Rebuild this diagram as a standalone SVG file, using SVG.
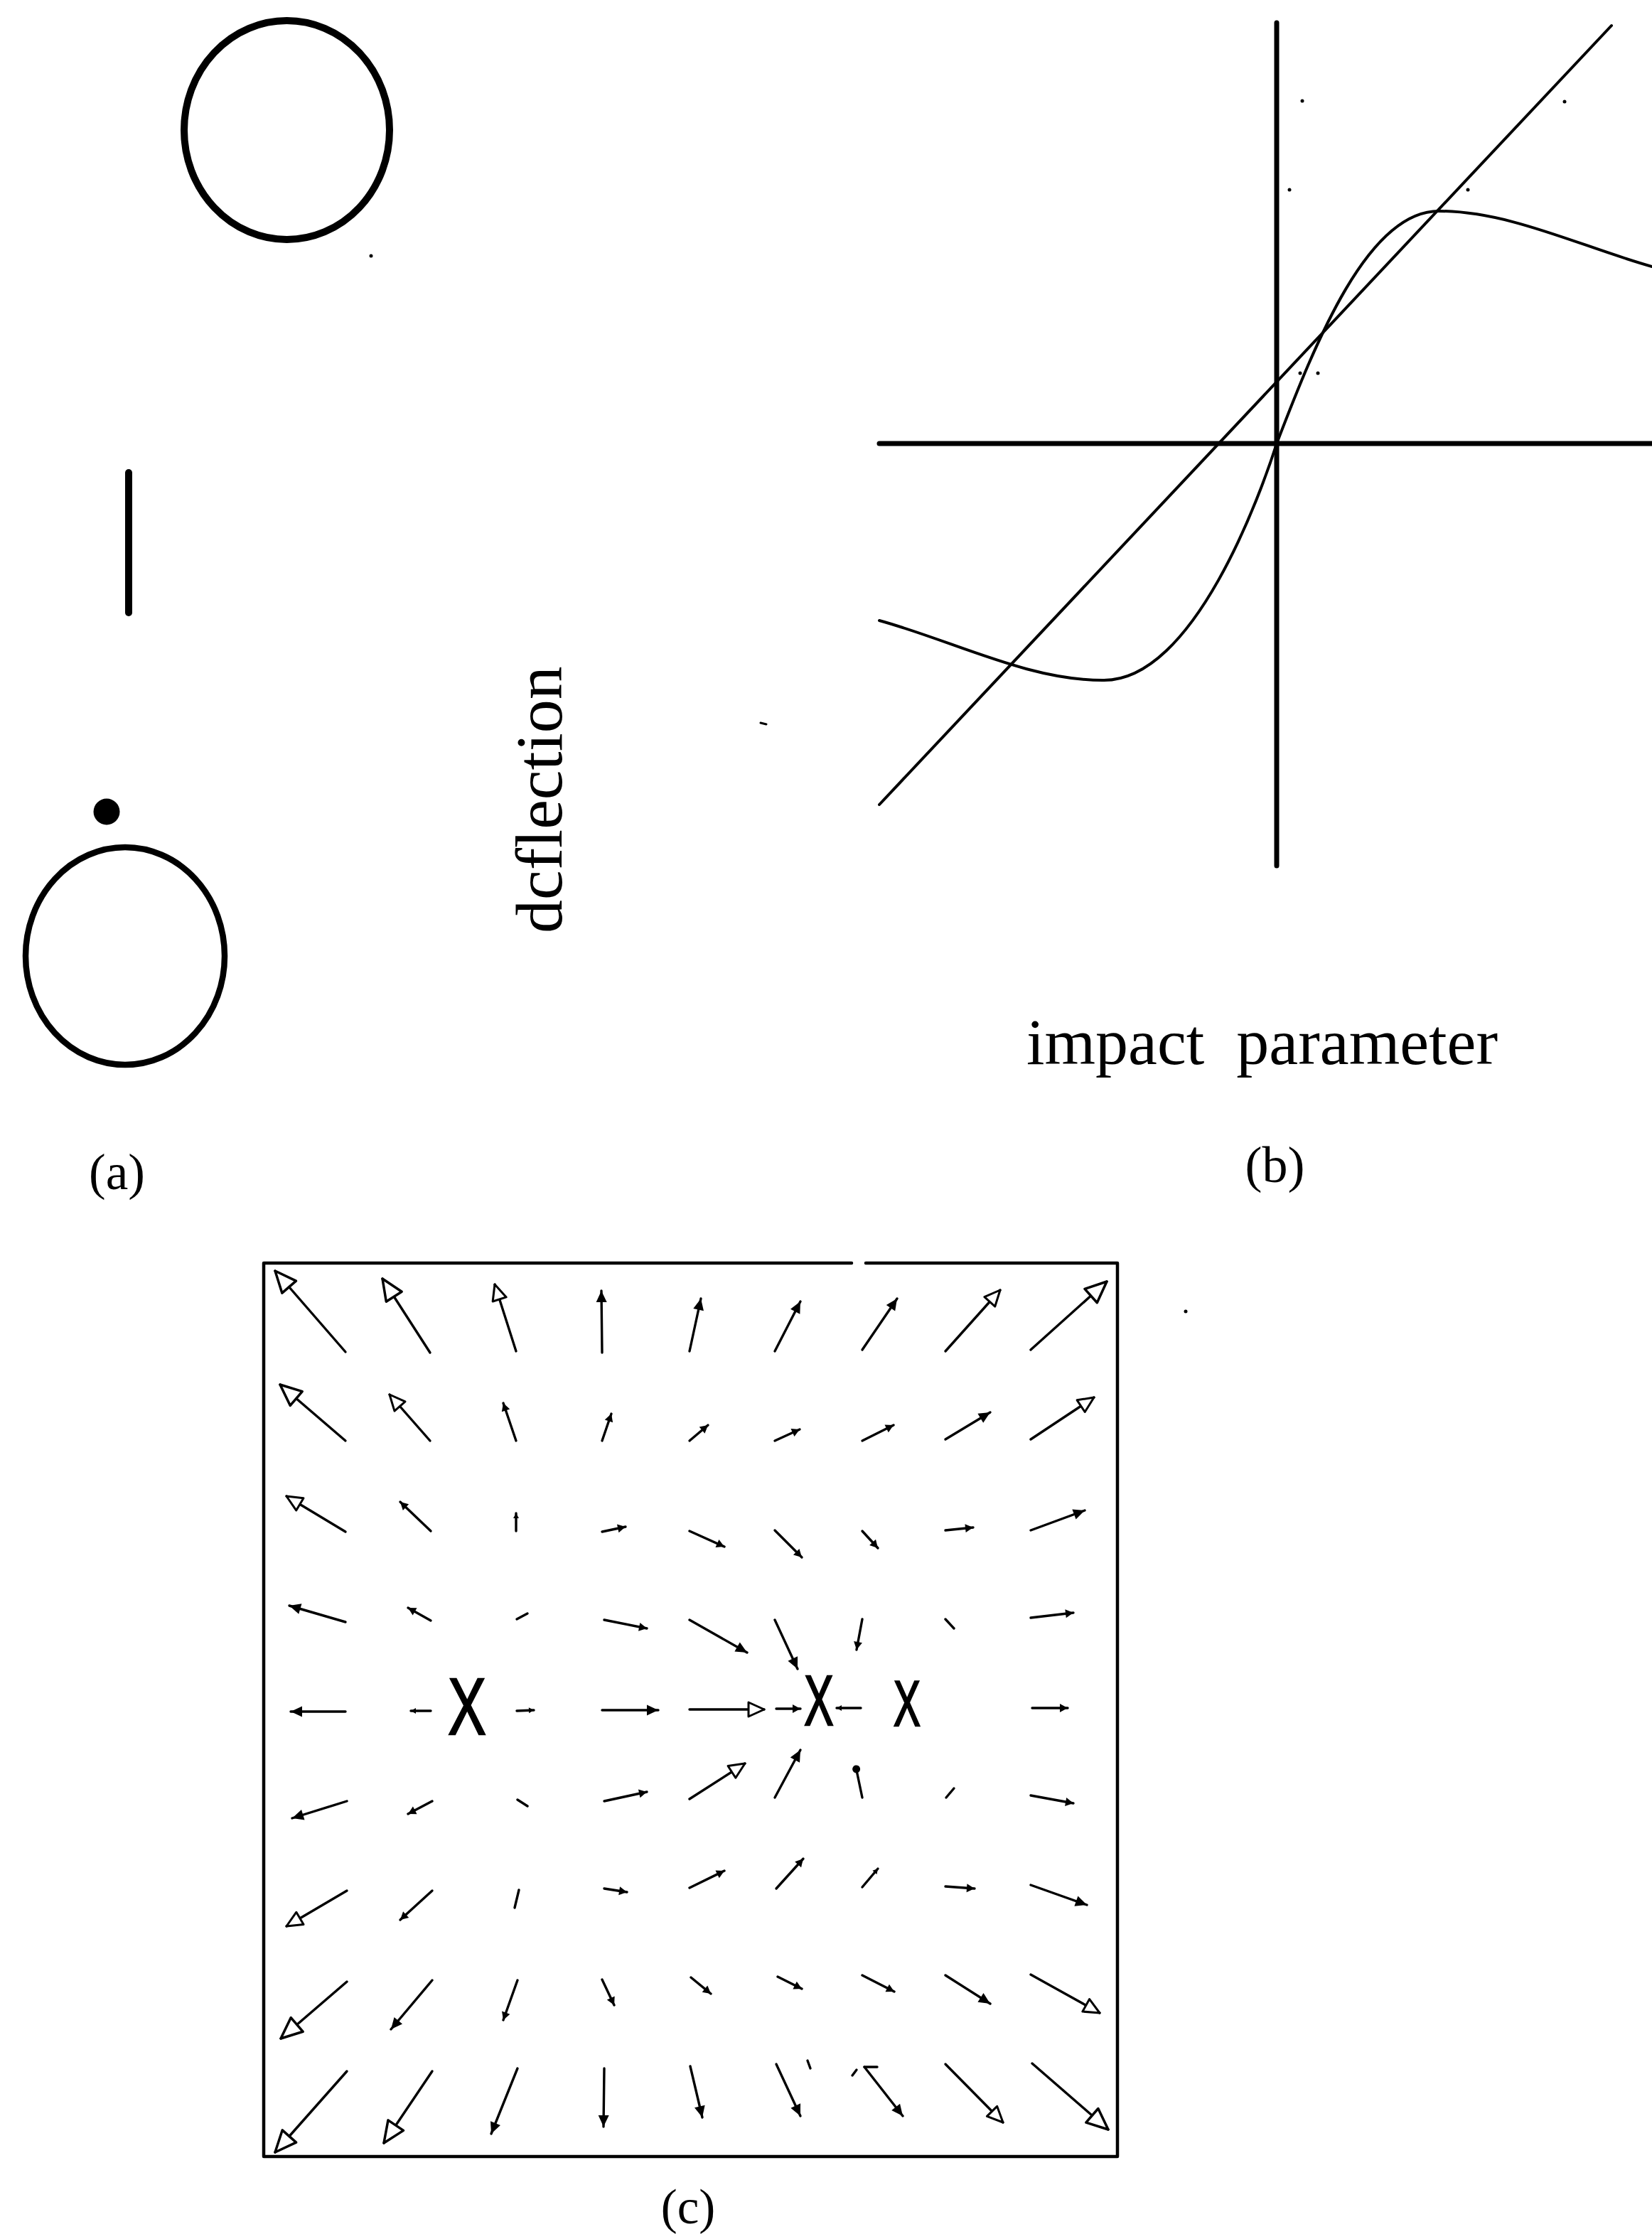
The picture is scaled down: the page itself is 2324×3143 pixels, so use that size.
<svg xmlns="http://www.w3.org/2000/svg" width="2324" height="3143" viewBox="0 0 2324 3143">
<style>
.ln{stroke:#000;fill:none;stroke-linecap:round;stroke-linejoin:round}
.ar{stroke:#000;stroke-width:3.4;fill:none;stroke-linecap:round}
.lbl{font-family:"Liberation Serif","Times New Roman",serif;fill:#000;font-variant-ligatures:none}
.xm{font-family:"Liberation Sans",Arial,sans-serif;fill:#000;stroke:#000;stroke-width:2.5;text-anchor:middle}
.spk{fill:#000}
</style>
<defs>
<marker id="HL" markerUnits="userSpaceOnUse" orient="auto" refX="0" refY="0" markerWidth="40" markerHeight="40" overflow="visible"><path d="M0,0 L-30,-13 L-30,13 Z" fill="#fff" stroke="#000" stroke-width="3.5" stroke-linejoin="round"/></marker>
<marker id="HM" markerUnits="userSpaceOnUse" orient="auto" refX="0" refY="0" markerWidth="30" markerHeight="30" overflow="visible"><path d="M0,0 L-22,-10 L-22,10 Z" fill="#fff" stroke="#000" stroke-width="3" stroke-linejoin="round"/></marker>
<marker id="FM" markerUnits="userSpaceOnUse" orient="auto" refX="0" refY="0" markerWidth="20" markerHeight="20" overflow="visible"><path d="M0,0 L-16,-7.5 L-16,7.5 Z" fill="#000"/></marker>
<marker id="FS" markerUnits="userSpaceOnUse" orient="auto" refX="0" refY="0" markerWidth="14" markerHeight="14" overflow="visible"><path d="M0,0 L-11,-6 L-11,6 Z" fill="#000"/></marker>
<marker id="FT" markerUnits="userSpaceOnUse" orient="auto" refX="0" refY="0" markerWidth="10" markerHeight="10" overflow="visible"><path d="M0,0 L-7,-4 L-7,4 Z" fill="#000"/></marker>
<marker id="DOT" markerUnits="userSpaceOnUse" orient="auto" refX="0" refY="0" markerWidth="12" markerHeight="12" overflow="visible"><circle cx="-3" cy="0" r="5.5" fill="#000"/></marker>
</defs>
<rect width="2324" height="3143" fill="#fff"/>

<g id="panel-a">
  <g id="a-ring-top"><ellipse cx="403.5" cy="183" rx="144.5" ry="154" class="ln" stroke-width="10"/></g>
  <g id="a-bar"><line x1="181" y1="665" x2="181" y2="862" class="ln" stroke-width="10"/></g>
  <g id="a-dot"><circle cx="150" cy="1142" r="18.5" fill="#000"/></g>
  <g id="a-ring-bottom"><ellipse cx="176" cy="1345" rx="140" ry="153" class="ln" stroke-width="8.5"/></g>
  <g id="a-label"><text class="lbl" x="164.5" y="1673" font-size="71" text-anchor="middle">(a)</text></g>
  <circle class="spk" cx="522" cy="360" r="2.5"/>
</g>

<g id="panel-b">
  <g id="b-ylabel"><text class="lbl" transform="translate(790,1313) rotate(-90)" font-size="94">dcflection</text></g>
  <g id="b-axes">
    <line x1="1796" y1="32" x2="1796" y2="1218" class="ln" stroke-width="7"/>
    <line x1="1237" y1="624" x2="2324" y2="624" class="ln" stroke-width="7"/>
  </g>
  <g id="b-line"><line x1="1237" y1="1132" x2="2267" y2="36" class="ln" stroke-width="4"/></g>
  <g id="b-curve"><path class="ln" stroke-width="4" d="M1237,873 C1342,902 1446,957 1551,957 C1680,960 1775,690 1796,624 C1851,481 1924,297 2024,297 C2124,297 2224,347 2324,375"/></g>
  <g id="b-xlabel"><text class="lbl" x="1444" y="1497" font-size="92" style="word-spacing:22px">impact parameter</text></g>
  <g id="b-label"><text class="lbl" x="1793.5" y="1663" font-size="72" text-anchor="middle">(b)</text></g>
  <circle class="spk" cx="1832" cy="142" r="2.5"/>
  <circle class="spk" cx="1814" cy="267" r="2.5"/>
  <circle class="spk" cx="2065" cy="267" r="2.5"/>
  <circle class="spk" cx="2201" cy="143" r="2.5"/>
  <circle class="spk" cx="1829" cy="525" r="2.5"/>
  <circle class="spk" cx="1854" cy="525" r="2.5"/>
  <line x1="1070" y1="1017" x2="1078" y2="1019" class="ln" stroke-width="3"/>
</g>

<g id="panel-c">
  <g id="c-frame">
    <path class="ln" stroke-width="4.5" d="M1198,1777 L371,1777 L371,3034 L1572,3034 L1572,1777 L1218,1777"/>
  </g>
  <g id="c-masses">
    <text class="xm" transform="translate(657,2440) scale(0.71,1)" font-size="113">X</text>
    <text class="xm" transform="translate(1152,2427) scale(0.62,1)" font-size="100">X</text>
    <text class="xm" transform="translate(1276,2428) scale(0.63,1)" font-size="90">X</text>
  </g>
  <g id="c-arrows">
    <line class="ar" x1="486" y1="1902" x2="387" y2="1788" marker-end="url(#HL)"/>
    <line class="ar" x1="605" y1="1903" x2="538" y2="1799" marker-end="url(#HL)"/>
    <line class="ar" x1="726" y1="1901" x2="696" y2="1807" marker-end="url(#HM)"/>
    <line class="ar" x1="847" y1="1903" x2="846" y2="1816" marker-end="url(#FM)"/>
    <line class="ar" x1="970" y1="1901" x2="986" y2="1827" marker-end="url(#FM)"/>
    <line class="ar" x1="1090" y1="1901" x2="1126" y2="1831" marker-end="url(#FM)"/>
    <line class="ar" x1="1213" y1="1899" x2="1262" y2="1827" marker-end="url(#FM)"/>
    <line class="ar" x1="1330" y1="1901" x2="1407" y2="1815" marker-end="url(#HM)"/>
    <line class="ar" x1="1450" y1="1899" x2="1557" y2="1803" marker-end="url(#HL)"/>

    <line class="ar" x1="486" y1="2027" x2="394" y2="1948" marker-end="url(#HL)"/>
    <line class="ar" x1="605" y1="2027" x2="548" y2="1962" marker-end="url(#HM)"/>
    <line class="ar" x1="726" y1="2027" x2="708" y2="1974" marker-end="url(#FS)"/>
    <line class="ar" x1="847" y1="2027" x2="860" y2="1989" marker-end="url(#FS)"/>
    <line class="ar" x1="970" y1="2027" x2="996" y2="2005" marker-end="url(#FS)"/>
    <line class="ar" x1="1090" y1="2027" x2="1125" y2="2011" marker-end="url(#FS)"/>
    <line class="ar" x1="1213" y1="2027" x2="1257" y2="2005" marker-end="url(#FS)"/>
    <line class="ar" x1="1330" y1="2025" x2="1393" y2="1987" marker-end="url(#FM)"/>
    <line class="ar" x1="1450" y1="2025" x2="1539" y2="1966" marker-end="url(#HM)"/>

    <line class="ar" x1="486" y1="2155" x2="403" y2="2105" marker-end="url(#HM)"/>
    <line class="ar" x1="606" y1="2154" x2="563" y2="2113" marker-end="url(#FS)"/>
    <line class="ar" x1="726" y1="2154" x2="726" y2="2129" marker-end="url(#FT)"/>
    <line class="ar" x1="847" y1="2155" x2="880" y2="2148" marker-end="url(#FS)"/>
    <line class="ar" x1="970" y1="2154" x2="1019" y2="2176" marker-end="url(#FS)"/>
    <line class="ar" x1="1090" y1="2153" x2="1128" y2="2191" marker-end="url(#FS)"/>
    <line class="ar" x1="1213" y1="2154" x2="1235" y2="2178" marker-end="url(#FS)"/>
    <line class="ar" x1="1330" y1="2153" x2="1369" y2="2149" marker-end="url(#FS)"/>
    <line class="ar" x1="1450" y1="2153" x2="1526" y2="2125" marker-end="url(#FM)"/>

    <line class="ar" x1="486" y1="2282" x2="407" y2="2259" marker-end="url(#FM)"/>
    <line class="ar" x1="606" y1="2280" x2="574" y2="2262" marker-end="url(#FS)"/>
    <line class="ar" x1="727" y1="2278" x2="742" y2="2270"/>
    <line class="ar" x1="850" y1="2279" x2="910" y2="2291" marker-end="url(#FS)"/>
    <line class="ar" x1="970" y1="2279" x2="1051" y2="2325" marker-end="url(#FM)"/>
    <line class="ar" x1="1090" y1="2279" x2="1122" y2="2348" marker-end="url(#FM)"/>
    <line class="ar" x1="1213" y1="2278" x2="1205" y2="2321" marker-end="url(#FS)"/>
    <line class="ar" x1="1330" y1="2278" x2="1342" y2="2291"/>
    <line class="ar" x1="1450" y1="2276" x2="1510" y2="2269" marker-end="url(#FS)"/>

    <line class="ar" x1="486" y1="2408" x2="409" y2="2408" marker-end="url(#FM)"/>
    <line class="ar" x1="606" y1="2407" x2="578" y2="2407" marker-end="url(#FT)"/>
    <line class="ar" x1="727" y1="2407" x2="751" y2="2406" marker-end="url(#FT)"/>
    <line class="ar" x1="847" y1="2406" x2="926" y2="2406" marker-end="url(#FM)"/>
    <line class="ar" x1="970" y1="2405" x2="1075" y2="2405" marker-end="url(#HM)"/>
    <line class="ar" x1="1092" y1="2404" x2="1126" y2="2404" marker-end="url(#FS)"/>
    <line class="ar" x1="1211" y1="2403" x2="1177" y2="2403" marker-end="url(#FT)"/>
    <line class="ar" x1="1452" y1="2403" x2="1502" y2="2403" marker-end="url(#FS)"/>

    <line class="ar" x1="488" y1="2534" x2="411" y2="2558" marker-end="url(#FM)"/>
    <line class="ar" x1="608" y1="2534" x2="574" y2="2552" marker-end="url(#FS)"/>
    <line class="ar" x1="728" y1="2532" x2="742" y2="2541"/>
    <line class="ar" x1="850" y1="2534" x2="910" y2="2521" marker-end="url(#FS)"/>
    <line class="ar" x1="970" y1="2531" x2="1048" y2="2481" marker-end="url(#HM)"/>
    <line class="ar" x1="1090" y1="2529" x2="1126" y2="2462" marker-end="url(#FM)"/>
    <line class="ar" x1="1213" y1="2529" x2="1204" y2="2486" marker-end="url(#DOT)"/>
    <line class="ar" x1="1331" y1="2529" x2="1342" y2="2516"/>
    <line class="ar" x1="1450" y1="2526" x2="1510" y2="2537" marker-end="url(#FS)"/>

    <line class="ar" x1="488" y1="2660" x2="403" y2="2710" marker-end="url(#HM)"/>
    <line class="ar" x1="608" y1="2660" x2="563" y2="2701" marker-end="url(#FS)"/>
    <line class="ar" x1="730" y1="2659" x2="724" y2="2684"/>
    <line class="ar" x1="850" y1="2657" x2="882" y2="2662" marker-end="url(#FS)"/>
    <line class="ar" x1="970" y1="2656" x2="1019" y2="2632" marker-end="url(#FS)"/>
    <line class="ar" x1="1092" y1="2657" x2="1130" y2="2615" marker-end="url(#FS)"/>
    <line class="ar" x1="1213" y1="2655" x2="1235" y2="2629" marker-end="url(#FT)"/>
    <line class="ar" x1="1330" y1="2654" x2="1371" y2="2657" marker-end="url(#FS)"/>
    <line class="ar" x1="1450" y1="2652" x2="1529" y2="2680" marker-end="url(#FM)"/>

    <line class="ar" x1="488" y1="2788" x2="395" y2="2868" marker-end="url(#HL)"/>
    <line class="ar" x1="608" y1="2786" x2="550" y2="2855" marker-end="url(#FM)"/>
    <line class="ar" x1="728" y1="2786" x2="708" y2="2842" marker-end="url(#FS)"/>
    <line class="ar" x1="847" y1="2785" x2="864" y2="2821" marker-end="url(#FS)"/>
    <line class="ar" x1="972" y1="2782" x2="1000" y2="2805" marker-end="url(#FS)"/>
    <line class="ar" x1="1094" y1="2781" x2="1128" y2="2798" marker-end="url(#FS)"/>
    <line class="ar" x1="1213" y1="2779" x2="1258" y2="2802" marker-end="url(#FS)"/>
    <line class="ar" x1="1330" y1="2779" x2="1393" y2="2819" marker-end="url(#FM)"/>
    <line class="ar" x1="1450" y1="2778" x2="1547" y2="2832" marker-end="url(#HM)"/>

    <line class="ar" x1="488" y1="2914" x2="387" y2="3028" marker-end="url(#HL)"/>
    <line class="ar" x1="608" y1="2914" x2="540" y2="3015" marker-end="url(#HL)"/>
    <line class="ar" x1="728" y1="2910" x2="691" y2="3002" marker-end="url(#FM)"/>
    <line class="ar" x1="850" y1="2910" x2="849" y2="2992" marker-end="url(#FM)"/>
    <line class="ar" x1="971" y1="2907" x2="988" y2="2979" marker-end="url(#FM)"/>
    <line class="ar" x1="1092" y1="2904" x2="1126" y2="2977" marker-end="url(#FM)"/>
    <line class="ar" x1="1216" y1="2908" x2="1270" y2="2977" marker-end="url(#FM)"/>
    <line class="ar" x1="1330" y1="2904" x2="1411" y2="2986" marker-end="url(#HM)"/>
    <line class="ar" x1="1452" y1="2903" x2="1559" y2="2996" marker-end="url(#HL)"/>

    <line class="ar" x1="1216" y1="2908" x2="1234" y2="2908"/>
    <line class="ar" x1="1136" y1="2899" x2="1140" y2="2910"/>
    <line class="ar" x1="1199" y1="2920" x2="1205" y2="2912"/>
  </g>
  <g id="c-label"><text class="lbl" x="968" y="3128" font-size="69" text-anchor="middle">(c)</text></g>
  <circle class="spk" cx="1668" cy="1845" r="2.5"/>
</g>
</svg>
